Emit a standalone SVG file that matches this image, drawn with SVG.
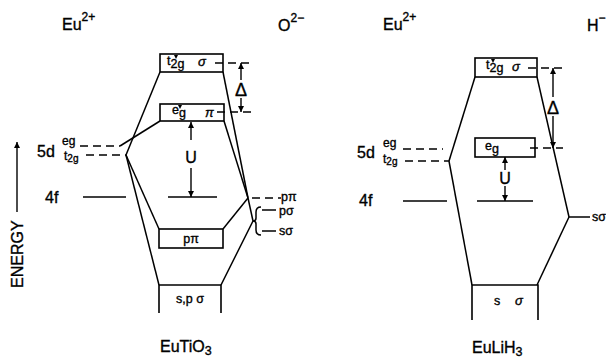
<svg xmlns="http://www.w3.org/2000/svg" width="606" height="358" viewBox="0 0 606 358">
<defs>
<marker id="ah" viewBox="0 0 10 10" refX="10" refY="5" markerUnits="userSpaceOnUse" markerWidth="6" markerHeight="7" orient="auto-start-reverse"><path d="M0,0 L10,5 L0,10 z" fill="#000"/></marker>
</defs>
<style>
.ln{stroke:#000;stroke-width:1.5;fill:none}
.box{stroke:#000;stroke-width:1.6;fill:none}
.ds{stroke:#000;stroke-width:1.4;stroke-dasharray:8 5;fill:none}
.ar{stroke:#000;stroke-width:1.4;fill:none;marker-end:url(#ah)}
.tick{fill:#000;stroke:none}
text{font-family:"Liberation Sans",Arial,sans-serif;fill:#000;stroke:#000;stroke-width:0.35}
.lab{font-size:16px}
.sm{font-size:12.5px}
.sup{font-size:12px}
.gk{font-size:13px;font-style:italic}
</style>
<rect width="606" height="358" fill="#fff"/>

<g id="connectors">
  <!-- EuTiO3 -->
  <line class="ln" x1="120" y1="146" x2="160" y2="121"/>
  <line class="ln" x1="126" y1="155" x2="160" y2="72"/>
  <line class="ln" x1="126" y1="155" x2="159" y2="229"/>
  <line class="ln" x1="126" y1="155" x2="159" y2="285"/>
  <line class="ln" x1="223" y1="72" x2="248" y2="198"/>
  <line class="ln" x1="224" y1="121" x2="248" y2="198"/>
  <line class="ln" x1="248" y1="198" x2="223" y2="229"/>
  <line class="ln" x1="248" y1="198" x2="253" y2="221"/>
  <line class="ln" x1="253" y1="221" x2="221" y2="285"/>
  <line class="ds" x1="80" y1="146" x2="120" y2="146"/>
  <line class="ds" x1="86" y1="155" x2="126" y2="155"/>
  <line class="ds" x1="215" y1="63" x2="252" y2="63"/>
  <line class="ds" x1="217" y1="112" x2="252" y2="112"/>
  <line class="ds" x1="252" y1="198" x2="281" y2="198"/>
  <!-- EuLiH3 -->
  <line class="ln" x1="475" y1="77" x2="449" y2="161"/>
  <line class="ln" x1="449" y1="161" x2="472" y2="285"/>
  <line class="ln" x1="537" y1="77" x2="569" y2="217"/>
  <line class="ln" x1="569" y1="217" x2="537" y2="285"/>
  <line class="ln" x1="569" y1="217" x2="590" y2="217"/>
  <line class="ds" x1="403" y1="149" x2="443" y2="149"/>
  <line class="ds" x1="405" y1="161" x2="449" y2="161"/>
  <line class="ds" x1="528" y1="68" x2="563" y2="68"/>
  <line class="ds" x1="530" y1="148" x2="563" y2="148"/>
</g>

<g id="energy-axis">
  <line class="ar" x1="17" y1="212" x2="17" y2="142"/>
  <text class="lab" transform="translate(23,288) rotate(-90)">ENERGY</text>
</g>

<g id="eutio3-eu">
  <text x="62" y="30" class="lab">Eu<tspan dy="-9" class="sup">2+</tspan></text>
  <text x="37" y="157" class="lab">5d</text>
  <text x="62" y="145" class="sup">eg</text>
  <text x="64" y="160" class="sup">t<tspan dy="2" font-size="10">2g</tspan></text>
  <text x="45" y="203" class="lab">4f</text>
  <line class="ln" x1="83" y1="197" x2="126" y2="197"/>
</g>

<g id="eutio3-o">
  <text x="278" y="31" class="lab">O<tspan dy="-9" class="sup">2−</tspan></text>
  <text x="281" y="201" class="sm">pπ</text>
  <line class="ln" x1="262" y1="210" x2="276" y2="210"/>
  <text x="279" y="215" class="sm">pσ</text>
  <line class="ln" x1="262" y1="231" x2="276" y2="231"/>
  <text x="279" y="235" class="sm">sσ</text>
  <path class="ln" stroke-width="1.2" d="M261,207 Q256,207 256,212 V218 Q256,221 253,221 Q256,221 256,224 V230 Q256,235 261,235"/>
</g>

<g id="eutio3-t2g-sigma">
  <rect class="box" x="160" y="54" width="63" height="18"/>
  <text x="167" y="65" class="sm">t<tspan dy="3">2g</tspan></text>
  <path class="tick" d="M174,55 L178,55 L176,59 z"/>
  <text x="198" y="66" class="gk">σ</text>
</g>

<g id="eutio3-eg-pi">
  <rect class="box" x="160" y="104" width="64" height="17"/>
  <text x="172" y="114" class="sm">e<tspan dy="3">g</tspan></text>
  <path class="tick" d="M178,105 L182,105 L180,109 z"/>
  <text x="205" y="117" class="gk">π</text>
</g>

<g id="eutio3-ppi">
  <rect class="box" x="159" y="229" width="64" height="19"/>
  <text x="191" y="243" class="sm" text-anchor="middle">pπ</text>
</g>

<g id="eutio3-sp-sigma">
  <path class="box" d="M159,313 V285 H221 V313"/>
  <text x="190" y="303" class="sm" text-anchor="middle">s,p σ</text>
</g>

<g id="eutio3-gaps">
  <line class="ar" x1="191" y1="140" x2="191" y2="122"/>
  <text x="191" y="163" class="lab" text-anchor="middle">U</text>
  <line class="ar" x1="191" y1="168" x2="191" y2="197"/>
  <line class="ln" x1="168" y1="197" x2="217" y2="197"/>
  <line class="ar" x1="241" y1="80" x2="241" y2="63"/>
  <text x="241" y="96" font-size="18" text-anchor="middle">Δ</text>
  <line class="ar" x1="241" y1="98" x2="241" y2="112"/>
  <text x="160" y="352" class="lab">EuTiO<tspan dy="3" class="sm">3</tspan></text>
</g>

<g id="eulih3-eu">
  <text x="383" y="30" class="lab">Eu<tspan dy="-9" class="sup">2+</tspan></text>
  <text x="357" y="158" class="lab">5d</text>
  <text x="383" y="147" class="sup">eg</text>
  <text x="383" y="163" class="sup">t<tspan dy="2" font-size="10">2g</tspan></text>
  <text x="359" y="206" class="lab">4f</text>
  <line class="ln" x1="403" y1="201" x2="447" y2="201"/>
</g>

<g id="eulih3-h">
  <text x="587" y="31" class="lab">H<tspan dy="-9" class="sup">−</tspan></text>
  <text x="592" y="221" class="sm">sσ</text>
</g>

<g id="eulih3-t2g-sigma">
  <rect class="box" x="475" y="58" width="62" height="19"/>
  <text x="486" y="69" class="sm">t<tspan dy="3">2g</tspan></text>
  <path class="tick" d="M491,59 L495,59 L493,63 z"/>
  <text x="512" y="71" class="gk">σ</text>
</g>

<g id="eulih3-eg">
  <rect class="box" x="475" y="138" width="60" height="19"/>
  <text x="485" y="150" class="sm">e<tspan dy="3">g</tspan></text>
</g>

<g id="eulih3-s-sigma">
  <path class="box" d="M472,320 V285 H538 V320"/>
  <text x="494" y="305" class="sm">s</text>
  <text x="515" y="305" class="gk">σ</text>
</g>

<g id="eulih3-gaps">
  <line class="ar" x1="505" y1="170" x2="505" y2="157"/>
  <text x="505" y="184" class="lab" text-anchor="middle">U</text>
  <line class="ar" x1="505" y1="186" x2="505" y2="201"/>
  <line class="ln" x1="477" y1="201" x2="533" y2="201"/>
  <line class="ar" x1="553" y1="97" x2="553" y2="68"/>
  <text x="553" y="114" font-size="18" text-anchor="middle">Δ</text>
  <line class="ar" x1="553" y1="116" x2="553" y2="148"/>
  <text x="472" y="353" class="lab">EuLiH<tspan dy="3" class="sm">3</tspan></text>
</g>
</svg>
